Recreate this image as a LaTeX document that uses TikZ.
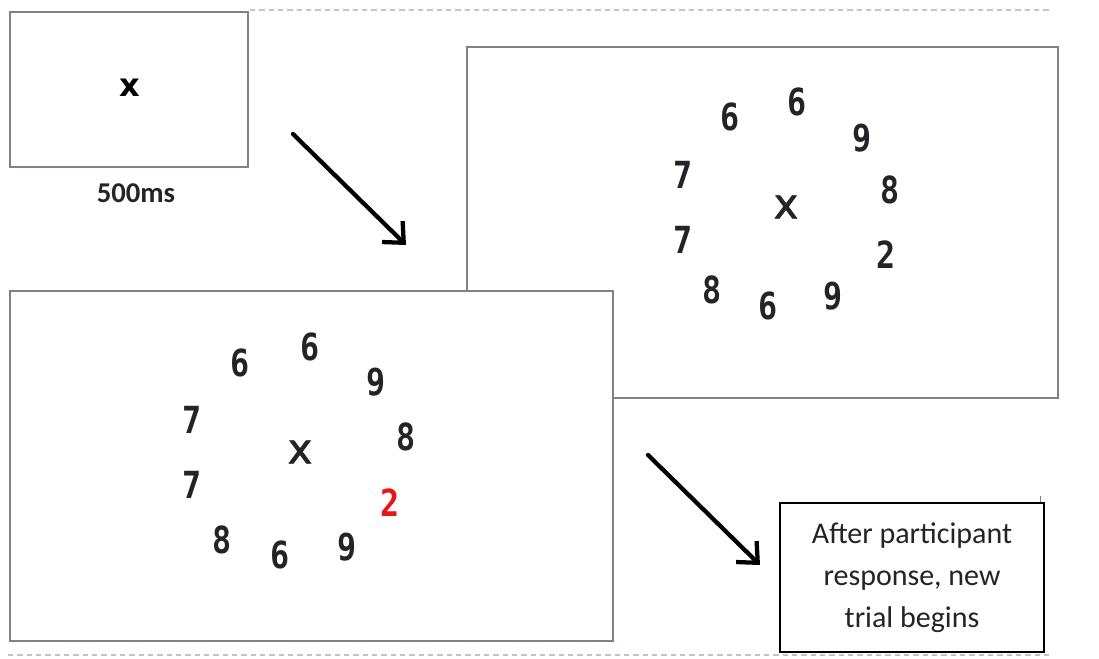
\documentclass[tikz,border=0pt]{standalone}
\usepackage{fontspec}
\setmainfont{Carlito}
\newfontfamily\digfont[FakeStretch=0.85]{DejaVu Sans Mono}
\newfontfamily\xfont{DejaVu Sans}
\newfontfamily\xmedfont[FakeBold=1.6]{DejaVu Sans}
\usetikzlibrary{arrows.meta}
\definecolor{boxgray}{RGB}{128,128,140}
\definecolor{dashgray}{RGB}{195,195,205}
\definecolor{digred}{RGB}{235,20,25}
\definecolor{digdark}{RGB}{35,35,40}
\tikzset{
  screen/.style={draw=boxgray, line width=1.5pt, fill=white, inner sep=0pt},
  dig/.style={font=\digfont\bfseries\fontsize{28}{30}\selectfont, text=digdark, inner sep=0pt},
  fixx/.style={font=\xmedfont\fontsize{31}{33}\selectfont, text=digdark, inner sep=0pt},
  flow/.style={line width=3.2pt, line cap=round, -{Straight Barb[length=12pt,width=22pt,line width=3.2pt]}},
  sepline/.style={dashgray, line width=1.5pt, dash pattern=on 4pt off 3pt},
}
\begin{document}
\begin{tikzpicture}[x=0.75pt,y=-0.75pt]
\useasboundingbox (0,0) rectangle (1099,659);
% separator lines
\coordinate (t1) at (250,10);
\coordinate (t2) at (1050,10);
\coordinate (u1) at (8,655);
\coordinate (u2) at (1050,655);
\draw[sepline] (t1) -- (t2);
\draw[sepline] (u1) -- (u2);
% box 1: fixation
\node[screen, minimum width=178.5pt, minimum height=116.25pt] (b1) at (129,89.5) {};
\node[font=\xfont\bfseries\fontsize{24}{26}\selectfont, inner sep=0pt] (x1) at (130,88) {x};
\node[font=\bfseries\fontsize{21.5}{24}\selectfont, text=digdark, inner sep=0pt] (t500) at (136,193) {500ms};
% box 2: array
\node[screen, minimum width=443.25pt, minimum height=263.25pt] (b2) at (762.5,222.5) {};
\node[fixx] (x2) at (786,207) {x};
\node[dig] (p1) at (730,117) {6};
\node[dig] (p2) at (797,102) {6};
\node[dig] (p3) at (862,138) {9};
\node[dig] (p4) at (890,190) {8};
\node[dig] (p5) at (886,255) {2};
\node[dig] (p6) at (833,296) {9};
\node[dig] (p7) at (768,306) {6};
\node[dig] (p8) at (712,290) {8};
\node[dig] (p9) at (683,240) {7};
\node[dig] (p10) at (683,175) {7};
% box 3: array with target
\node[screen, minimum width=452.25pt, minimum height=262.5pt] (b3) at (311.5,466) {};
\node[fixx] (x3) at (300,452) {x};
\node[dig] (q1) at (240,363) {6};
\node[dig] (q2) at (310,347) {6};
\node[dig] (q3) at (376,382) {9};
\node[dig] (q4) at (406,437) {8};
\node[dig, text=digred] (q5) at (390,503) {2};
\node[dig] (q6) at (347,547) {9};
\node[dig] (q7) at (280,555) {6};
\node[dig] (q8) at (222,540) {8};
\node[dig] (q9) at (192,485) {7};
\node[dig] (q10) at (192,420) {7};
% box 4: note
\node[draw=black, line width=1.2pt, fill=white, minimum width=198pt, minimum height=111.75pt, inner sep=0pt,
      align=center, font=\fontsize{22.5}{31.5}\selectfont, text=digdark] (b4) at (912,577.5)
      {After participant\\response, new\\trial begins};
\coordinate (k1) at (1040,496);
\draw[boxgray, line width=0.6pt] (k1) -- (b4.north east -| k1);
% arrows
\coordinate (a1s) at (293,134);
\coordinate (a1e) at (406,245);
\coordinate (a2s) at (648,455);
\coordinate (a2e) at (760,565);
\draw[flow] (a1s) -- (a1e);
\draw[flow] (a2s) -- (a2e);
\end{tikzpicture}
\end{document}
